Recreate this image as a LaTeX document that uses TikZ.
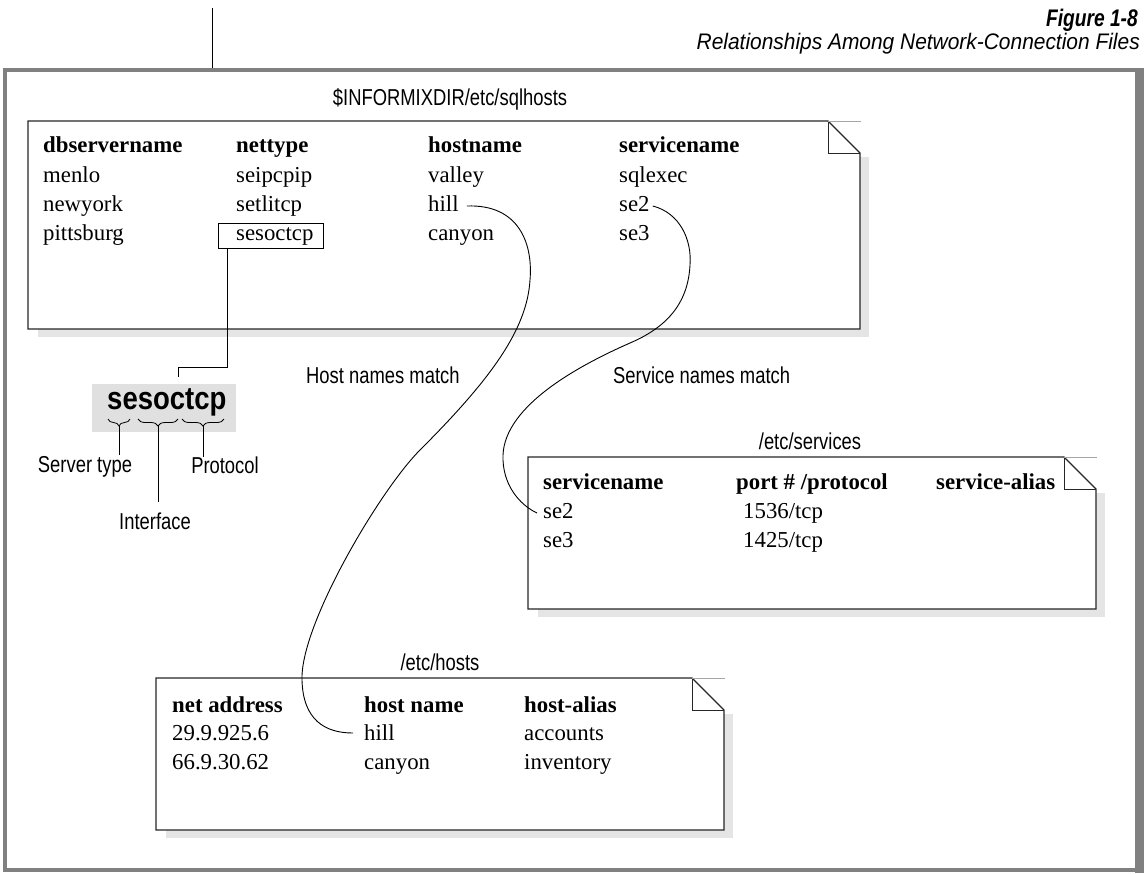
\documentclass[tikz,border=0pt]{standalone}
\usepackage{fontspec}
\setmainfont{Liberation Serif}
\newfontfamily\condsans{Liberation Sans}[FakeStretch=0.8]
\newfontfamily\capsans{Liberation Sans}[FakeStretch=0.93]
\newfontfamily\heavysans{Liberation Sans}[FakeStretch=0.86]
\usetikzlibrary{calc,decorations.pathreplacing}
\definecolor{framegray}{RGB}{128,128,128}
\definecolor{shadowgray}{RGB}{229,229,229}
\definecolor{wordgray}{RGB}{224,224,224}

% a dog-eared file card: left, top, right, bottom (y grows downwards)
\newcommand\filecard[4]{%
  \fill[shadowgray] (#1+10,#2+36) rectangle (#3+9,#4+8);
  \draw[cardline] (#1,#2) -- (#3-32,#2) -- (#3,#2+32) -- (#3,#4) -- (#1,#4) -- cycle;
  \draw[line width=0.9pt,black!85] (#3-32,#2) -- (#3-32,#2+32) -- (#3,#2+32);
  \draw[black!35,line width=0.6pt] (#3-32,#2) -- (#3+1,#2);
}

\begin{document}
\begin{tikzpicture}[x=1pt,y=-1pt,
  cell/.style={anchor=base west,inner sep=0pt,font=\fontsize{22.8}{27}\selectfont},
  head/.style={anchor=base west,inner sep=0pt,font=\fontsize{22.8}{27}\selectfont\bfseries},
  caption/.style={anchor=base,inner sep=0pt,font=\condsans\fontsize{23}{27}\selectfont},
  cardline/.style={draw=black!85,line width=1.3pt,fill=white,line join=miter},
  link/.style={draw=black,line width=0.9pt},
  brace/.style={decorate,decoration={brace,mirror,amplitude=7pt},line width=0.8pt}]
\useasboundingbox (0,0) rectangle (1148,873);

% page rule and outer frame
\draw[line width=1pt] (212,8) -- (212,69);
\draw[framegray,line width=4pt] (5,70) rectangle (1139,870);
\fill[framegray] (1135,68) rectangle (1144,873);

% figure heading
\node[anchor=base east,inner sep=0pt,font=\condsans\bfseries\itshape\fontsize{24}{27}\selectfont] (fignum) at (1138,26) {Figure 1-8};
\node[anchor=base east,inner sep=0pt,font=\capsans\itshape\fontsize{22.5}{27}\selectfont] (figtitle) at (1140,49) {Relationships Among Network-Connection Files};

% ---------- sqlhosts file ----------
\node[caption] (sqltitle) at (450,105) {\$INFORMIXDIR/etc/sqlhosts};
\filecard{28}{121}{860}{329}
\node[head] (h1) at (43,152) {dbservername};
\node[head] (h2) at (236,152) {nettype};
\node[head] (h3) at (428,152) {hostname};
\node[head] (h4) at (619,152) {servicename};
\node[cell] (r1a) at (43,182) {menlo};
\node[cell] (r1b) at (236,182) {seipcpip};
\node[cell] (r1c) at (428,182) {valley};
\node[cell] (r1d) at (619,182) {sqlexec};
\node[cell] (r2a) at (43,211) {newyork};
\node[cell] (r2b) at (236,211) {setlitcp};
\node[cell] (sqlhill) at (428,211) {hill};
\node[cell] (sqlse2) at (619,211) {se2};
\node[cell] (r3a) at (43,240) {pittsburg};
\node[cell] (r3b) at (236,240) {sesoctcp};
\node[cell] (r3c) at (428,240) {canyon};
\node[cell] (r3d) at (619,240) {se3};
\node[draw,line width=1pt,minimum width=105pt,minimum height=25pt,inner sep=0pt] (selbox) at (270.5,235.5) {};

% ---------- nettype breakdown ----------
\node[fill=wordgray,minimum width=144pt,minimum height=48pt,inner sep=0pt] (bigsel) at (164,408) {};
\node[anchor=base west,inner sep=0pt,font=\heavysans\bfseries\fontsize{32}{34}\selectfont] (bigword) at (107,409) {sesoctcp};
\coordinate (selfoot) at ($(selbox.south west)+(10,0)$);
\coordinate (selend) at (178,377);
\draw[link] (selfoot) |- (selend |- 0,367) -- (selend);

\draw[brace] (108,419) -- (130,419);
\draw[brace] (138,419) -- (178,419);
\draw[brace] (182,419) -- (224,419);
\coordinate (tipA) at (119,426);
\coordinate (tipB) at (158,426);
\coordinate (tipC) at (203,426);
\draw[line width=0.9pt] (tipA) -- ++(0,29);
\draw[line width=0.9pt] (tipB) -- ++(0,76);
\draw[line width=0.9pt] (tipC) -- ++(0,31);
\node[caption] (lserver) at (85,472) {Server type};
\node[caption] (lproto) at (225,473) {Protocol};
\node[caption] (liface) at (155,529) {Interface};

% ---------- match captions ----------
\node[caption,anchor=base west] (hostmatch) at (306,383) {Host names match};
\node[caption,anchor=base west] (svcmatch) at (613,383) {Service names match};

% ---------- services file ----------
\node[caption] (svctitle) at (810,449) {/etc/services};
\filecard{528}{457}{1096}{609}
\node[head] (s1) at (543,489) {servicename};
\node[head] (s2) at (736,489) {port \# /protocol};
\node[head] (s3) at (936,489) {service-alias};
\node[cell] (svcse2) at (543,518) {se2};
\node[cell] (p1) at (743,518) {1536/tcp};
\node[cell] (svcse3) at (543,547) {se3};
\node[cell] (p2) at (743,547) {1425/tcp};

% ---------- hosts file ----------
\node[caption] (hosttitle) at (440,670) {/etc/hosts};
\filecard{156}{678}{724}{830}
\node[head] (t1) at (172,712) {net address};
\node[head] (t2) at (364,712) {host name};
\node[head] (t3) at (524,712) {host-alias};
\node[cell] (a1) at (172,740) {29.9.925.6};
\node[cell] (hosthill) at (364,740) {hill};
\node[cell] (c1) at (524,740) {accounts};
\node[cell] (a2) at (172,769) {66.9.30.62};
\node[cell] (hostcanyon) at (364,769) {canyon};
\node[cell] (c2) at (524,769) {inventory};

% ---------- matching curves ----------
\coordinate (hA) at ($(sqlhill.base east)+(8,-5)$);
\coordinate (hB) at ($(hosthill.base west)+(-11,-7)$);
\draw[link] (hA) .. controls (520,204) and (533,245) .. (530,280)
  .. controls (527,330) and (490,380) .. (420,450)
  .. controls (380,490) and (300,625) .. (302,680)
  .. controls (303,720) and (325,733) .. (hB);

\coordinate (sA) at ($(sqlse2.base east)+(3,-5)$);
\coordinate (sB) at ($(svcse2.base west)+(-6,-5)$);
\draw[link] (sA) .. controls (680,213) and (692,240) .. (690,265)
  .. controls (688,305) and (665,328) .. (630,343)
  .. controls (580,365) and (505,405) .. (503,455)
  .. controls (502,485) and (520,505) .. (sB);
\end{tikzpicture}
\end{document}
